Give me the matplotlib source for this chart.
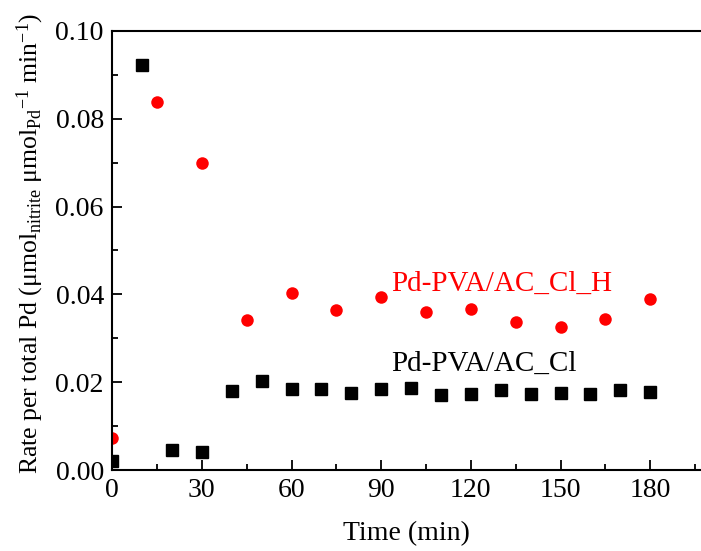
import matplotlib
matplotlib.use("Agg")
import matplotlib.pyplot as plt
from matplotlib.ticker import MultipleLocator

plt.rcParams['font.family'] = ['Liberation Serif', 'DejaVu Serif']
plt.rcParams['mathtext.fontset'] = 'custom'
plt.rcParams['mathtext.rm'] = 'Liberation Serif'
plt.rcParams['mathtext.it'] = 'Liberation Serif:italic'

# Pd-PVA/AC_Cl (black squares)
t_cl = [0, 10, 20, 30, 40, 50, 60, 70, 80, 90, 100, 110, 120, 130, 140, 150, 160, 170, 180]
rate_cl = [0.0021, 0.0923, 0.0045, 0.0040, 0.0181, 0.0203, 0.0184, 0.0185, 0.0175, 0.0184,
           0.0187, 0.0170, 0.0172, 0.0183, 0.0172, 0.0176, 0.0174, 0.0182, 0.0177]

# Pd-PVA/AC_Cl_H (red circles)
t_clh = [0, 15, 30, 45, 60, 75, 90, 105, 120, 135, 150, 165, 180]
rate_clh = [0.0072, 0.0838, 0.0700, 0.0341, 0.0402, 0.0364, 0.0395, 0.0360, 0.0367,
            0.0336, 0.0326, 0.0344, 0.0390]

fig = plt.figure(figsize=(7.01, 5.51), dpi=100)
ax = fig.add_axes([0.16, 0.147, 0.84, 0.797])

ax.plot(t_cl, rate_cl, 's', color='black', markersize=8, linestyle='none')
ax.plot(t_clh, rate_clh, 'o', color='red', markersize=9, markeredgewidth=0, linestyle='none')

ax.text(93.5, 0.0408, 'Pd-PVA/AC_Cl_H', color='red', fontsize=21)
ax.text(93.5, 0.0226, 'Pd-PVA/AC_Cl', color='black', fontsize=21)

ax.set_xlim(0, 197)
ax.set_ylim(0, 0.10)
ax.xaxis.set_major_locator(MultipleLocator(30))
ax.xaxis.set_minor_locator(MultipleLocator(15))
ax.yaxis.set_major_locator(MultipleLocator(0.02))
ax.yaxis.set_minor_locator(MultipleLocator(0.01))
ax.yaxis.set_major_formatter(matplotlib.ticker.FormatStrFormatter('%.2f'))

ax.tick_params(which='both', direction='in', top=False, right=False, labelsize=20, width=1.3)
ax.tick_params(which='major', length=7, pad=6)
ax.tick_params(which='minor', length=4)
ax.spines['right'].set_visible(False)
for s in ['left', 'bottom', 'top']:
    ax.spines[s].set_linewidth(1.5)

ax.set_xlabel('Time (min)', fontsize=20, labelpad=13)
ax.set_ylabel(r'Rate per total Pd (μmol$_{\mathregular{nitrite}}$ μmol$_{\mathregular{Pd}}$$^{\mathregular{-1}}$ min$^{\mathregular{-1}}$)',
              fontsize=18.5)
ax.yaxis.set_label_coords(-0.112, 0.515)

fig.savefig('out.png', dpi=100)
